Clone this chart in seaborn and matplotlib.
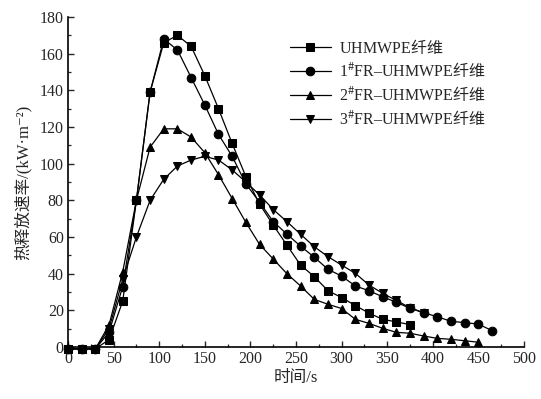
import numpy as np
import pandas as pd
import matplotlib
matplotlib.use("Agg")
import matplotlib.pyplot as plt
import seaborn as sns
from matplotlib.ticker import MultipleLocator

# ---- data ----
t_uhmwpe = [0, 15, 30, 45, 60, 75, 90, 105, 120, 135, 150, 165, 180, 195, 210, 225, 240, 255,
            270, 285, 300, 315, 330, 345, 360, 375]
hrr_uhmwpe = [-1, -1, -1, 4, 25, 80, 139, 166, 170, 164, 148, 130, 111, 93, 78, 66.5, 55.6, 44.7,
              38.4, 30.7, 27, 22.6, 18.5, 15.1, 13.7, 12.2]

t_fr1 = [0, 15, 30, 45, 60, 75, 90, 105, 120, 135, 150, 165, 180, 195, 210, 225, 240, 255,
         270, 285, 300, 315, 330, 345, 360, 375, 390, 405, 420, 435, 450, 465]
hrr_fr1 = [-1, -1, -1, 8, 33, 80, 139, 168, 162, 147, 132, 116, 104, 89, 79, 68.4, 61.6, 55,
           49, 42.4, 38.7, 33.3, 30.7, 27.4, 24.4, 21.1, 18.7, 16.5, 14, 13.3, 12.5, 8.9]

t_fr2 = [0, 15, 30, 45, 60, 75, 90, 105, 120, 135, 150, 165, 180, 195, 210, 225, 240, 255,
         270, 285, 300, 315, 330, 345, 360, 375, 390, 405, 420, 435, 450]
hrr_fr2 = [-1, -1, -1, 12, 41, 80, 109, 119, 119, 114.5, 106, 94, 81, 68, 56, 48, 40, 33.3,
           26, 23.3, 21, 15.1, 12.9, 10.2, 8, 7.5, 6, 4.7, 4.2, 3.4, 2.6]

t_fr3 = [0, 15, 30, 45, 60, 75, 90, 105, 120, 135, 150, 165, 180, 195, 210, 225, 240, 255,
         270, 285, 300, 315, 330, 345, 360, 375, 390]
hrr_fr3 = [-1, -1, -1, 10, 37, 60, 80, 91.5, 98.7, 102, 104, 102, 96.6, 90, 83, 75, 68.4, 61.5,
           54.7, 49.3, 44.7, 40.2, 33.8, 29.3, 25.4, 21.4, 18.7]

labels = ["UHMWPE$\\mathrm{纤维}$",
          "1$^{\\#}$FR–UHMWPE$\\mathrm{纤维}$",
          "2$^{\\#}$FR–UHMWPE$\\mathrm{纤维}$",
          "3$^{\\#}$FR–UHMWPE$\\mathrm{纤维}$"]
markers = ["s", "o", "^", "v"]
xticks = [0, 50, 100, 150, 200, 250, 300, 350, 400, 450, 500]
yticks = [0, 20, 40, 60, 80, 100, 120, 140, 160, 180]
xlabel = "时间/s"
ylabel = "热释放速率/(kW·m⁻²)"

series = [(t_uhmwpe, hrr_uhmwpe), (t_fr1, hrr_fr1), (t_fr2, hrr_fr2), (t_fr3, hrr_fr3)]

sns.set_style("white")
FAM = ["Liberation Serif", "Noto Sans CJK SC", "DejaVu Serif"]
plt.rcParams["font.family"] = FAM
plt.rcParams["axes.unicode_minus"] = False
plt.rcParams["mathtext.fontset"] = "custom"
plt.rcParams["mathtext.rm"] = "Noto Sans CJK SC"
plt.rcParams["mathtext.it"] = "Noto Sans CJK SC"
plt.rcParams["mathtext.bf"] = "Noto Sans CJK SC"
plt.rcParams["mathtext.default"] = "rm"

fig = plt.figure(figsize=(5.41, 3.99), dpi=100)
ax = fig.add_axes([68 / 541, 1 - 347 / 399, 456 / 541, 330 / 399])

for (t, v), lab, m in zip(series, labels, markers):
    df = pd.DataFrame({"t": t, "v": v})
    sns.lineplot(data=df, x="t", y="v", ax=ax, color="black", marker=m, markersize=6.2,
                 markeredgecolor="black", markerfacecolor="black", linewidth=0.9,
                 label=lab, clip_on=False, zorder=3)

ax.set_xlim(0, 500)
ax.set_ylim(0, 180)
ax.set_xticks(xticks)
ax.set_yticks(yticks)
ax.xaxis.set_minor_locator(MultipleLocator(25))
ax.yaxis.set_minor_locator(MultipleLocator(10))
ax.tick_params(which="major", direction="in", length=4, width=1, labelsize=11.5,
               top=False, right=False, bottom=True, left=True, pad=3)
ax.tick_params(which="minor", direction="in", length=2.5, width=0.9,
               top=False, right=False, bottom=True, left=True)
for s in ["top", "right"]:
    ax.spines[s].set_visible(False)
for s in ["left", "bottom"]:
    ax.spines[s].set_linewidth(1.2)
    ax.spines[s].set_color("black")
ax.set_xlabel(xlabel, fontsize=12, labelpad=2)
ax.set_ylabel(ylabel, fontsize=12, labelpad=6)

leg = ax.legend(loc="upper left", bbox_to_anchor=((290 - 68) / 456, (347 - 38) / 330),
                frameon=False, fontsize=11.5, handlelength=2.55, handletextpad=0.5,
                labelspacing=0.27, borderpad=0, borderaxespad=0)

fig.savefig("out.png", dpi=100, facecolor="white")
